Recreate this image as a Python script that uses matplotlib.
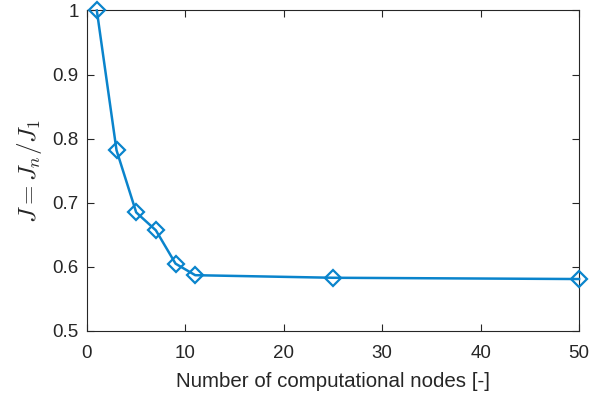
import matplotlib

matplotlib.use("Agg")

import matplotlib.pyplot as plt

# data
nodes = [1, 3, 5, 7, 9, 11, 25, 50]
ratio = [1.0, 0.782, 0.685, 0.657, 0.605, 0.587, 0.583, 0.581]
xticks = [0, 10, 20, 30, 40, 50]
yticks = [0.5, 0.6, 0.7, 0.8, 0.9, 1.0]
yticklabels = ["0.5", "0.6", "0.7", "0.8", "0.9", "1"]

LINE = "#0A84CC"
AXIS = "#262626"

plt.rcParams.update(
    {
        "font.family": ["Liberation Sans", "DejaVu Sans"],
        "mathtext.fontset": "cm",
        "axes.edgecolor": AXIS,
        "axes.linewidth": 0.8,
        "xtick.color": AXIS,
        "ytick.color": AXIS,
        "xtick.direction": "in",
        "ytick.direction": "in",
        "xtick.top": True,
        "ytick.right": True,
    }
)

fig = plt.figure(figsize=(5.97, 3.94), dpi=100)
ax = fig.add_axes([0.1457, 0.160, 0.8243, 0.8134])

ax.plot(
    nodes,
    ratio,
    color=LINE,
    lw=1.8,
    marker="D",
    ms=8,
    mfc="none",
    mec=LINE,
    mew=1.6,
    clip_on=False,
    zorder=3,
)

ax.set_xlim(0, 50)
ax.set_ylim(0.5, 1.0)
ax.set_xticks(xticks)
ax.set_yticks(yticks)
ax.set_yticklabels(yticklabels)
ax.tick_params(labelsize=13.5, length=5, width=0.8)
ax.tick_params(axis="x", pad=10)
ax.tick_params(axis="y", pad=6)
ax.set_xlabel(
    "Number of computational nodes [-]", fontsize=14.8, color=AXIS, labelpad=7
)
ax.set_ylabel(r"$J = J_n / J_1$", fontsize=18, color=AXIS, labelpad=6)

fig.savefig("out.png", dpi=100)
